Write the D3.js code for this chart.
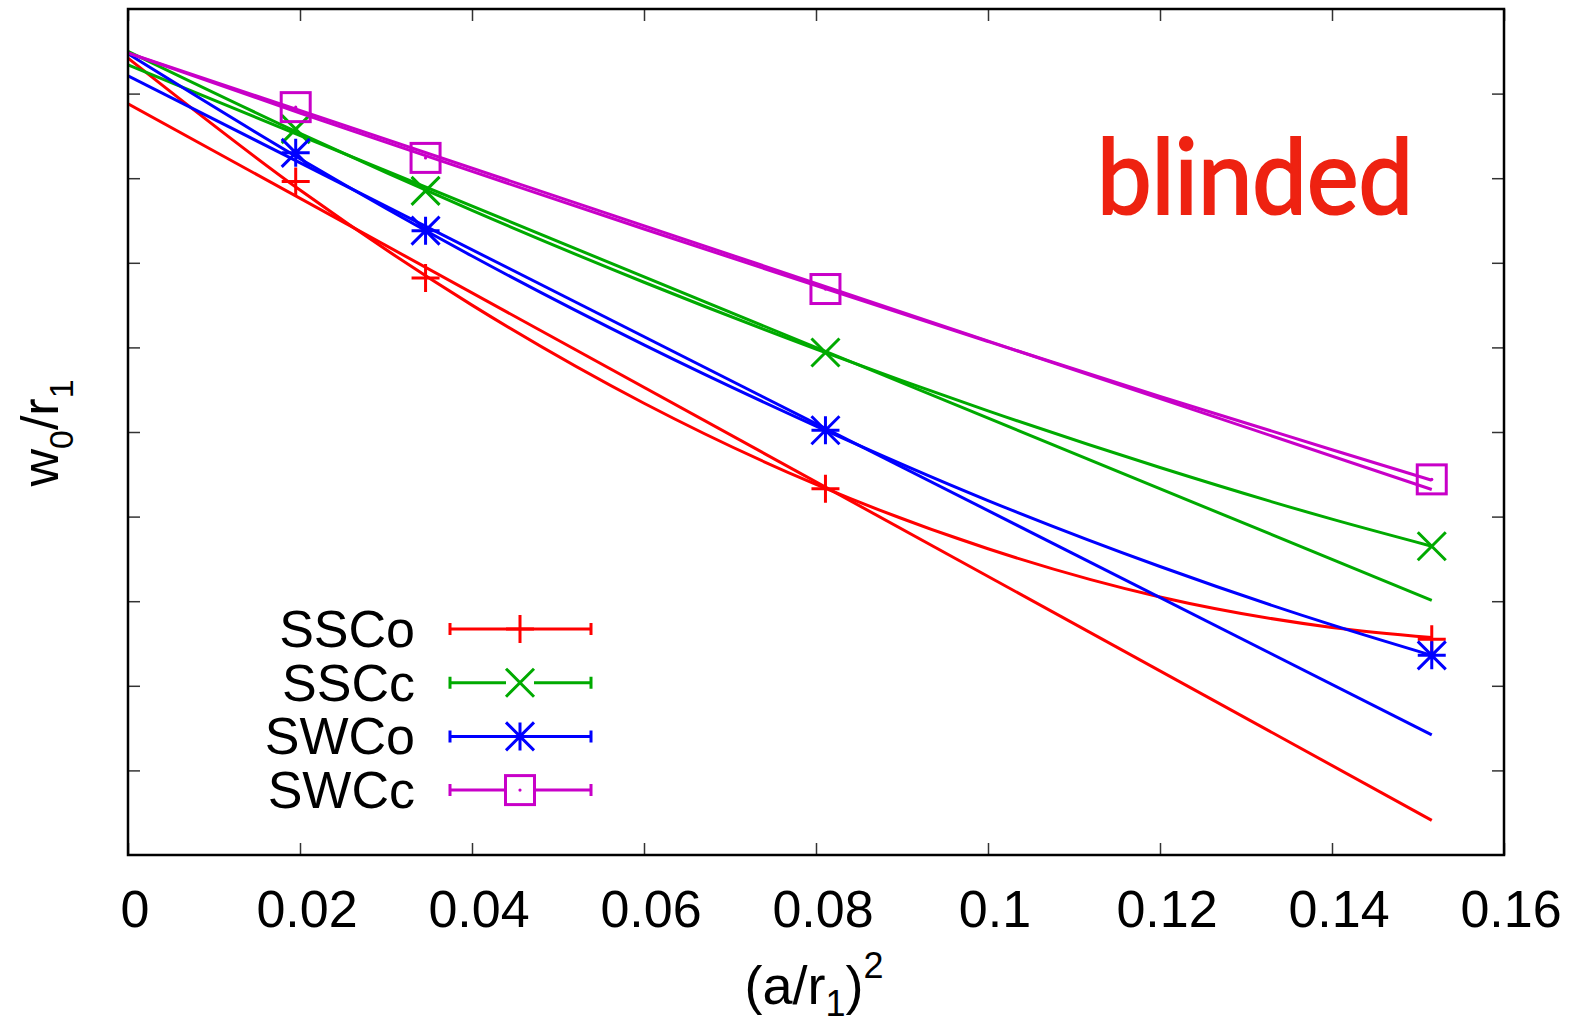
<!DOCTYPE html>
<html>
<head>
<meta charset="utf-8">
<script src="https://cdn.jsdelivr.net/npm/d3@7"></script>
<style>
html,body{margin:0;padding:0;background:#fff;}
svg{display:block;}
</style>
</head>
<body>
<svg id="chart" width="1571" height="1025"></svg>
<script>
// ---------------- data ----------------
const xTicks = [0, 0.02, 0.04, 0.06, 0.08, 0.1, 0.12, 0.14, 0.16];
const xTickLabels = ["0", "0.02", "0.04", "0.06", "0.08", "0.1", "0.12", "0.14", "0.16"];
const yTicks = [1, 2, 3, 4, 5, 6, 7, 8, 9];   // blinded: no labels

const seriesNames = ["SSCo", "SSCc", "SWCo", "SWCc"];
const seriesColors = ["#ff0000", "#00aa00", "#0000ff", "#c800c8"];
const seriesMarkers = ["plus", "cross", "star", "square"];

// (a/r1)^2 of the ensembles
const pointX = [0.0195, 0.0346, 0.0811, 0.1516];
// w0/r1 (blinded units)
const ssco = [7.96, 6.82, 4.33, 2.55];
const sscc = [8.58, 7.85, 5.94, 3.65];
const swco = [8.30, 7.38, 5.02, 2.36];
const swcc = [8.84, 8.24, 6.69, 4.44];

// fit curves
const fitX = [0, 0.02, 0.04, 0.06, 0.08, 0.10, 0.12, 0.14, 0.1516];
const fitSSCoCurve = [9.42, 7.86, 6.50, 5.34, 4.38, 3.62, 3.05, 2.69, 2.57];
const fitSSCcCurve = [9.50, 8.53, 7.62, 6.77, 5.98, 5.25, 4.58, 3.97, 3.65];
const fitSWCoCurve = [9.47, 8.23, 7.08, 6.03, 5.07, 4.19, 3.41, 2.72, 2.36];
const fitSWCcCurve = [9.48, 8.77, 8.08, 7.40, 6.73, 6.07, 5.42, 4.79, 4.43];
const fitLineX = [0, 0.1516];
const fitSSCoLine = [8.88, 0.41];
const fitSSCcLine = [9.34, 3.01];
const fitSWCoLine = [9.21, 1.42];
const fitSWCcLine = [9.48, 4.32];

// ---------------- layout ----------------
const L = 128, R = 1504, T = 9, B = 855;
const svg = d3.select("#chart");
const x = d3.scaleLinear().domain([0, 0.16]).range([L, R]);
const y = d3.scaleLinear().domain([0, 10]).range([B, T]);
const FONT = "'Liberation Sans', Arial, Helvetica, sans-serif";

svg.append("defs").append("clipPath").attr("id", "clip")
  .append("rect").attr("x", L).attr("y", T).attr("width", R - L).attr("height", B - T);

// ticks (inward, mirrored)
const tl = 12;
const axB = d3.axisBottom(x).tickValues(xTicks).tickSize(tl).tickFormat("");
const gTicks = svg.append("g");
gTicks.append("g").attr("transform", `translate(0,${B - tl})`).call(axB);
gTicks.append("g").attr("transform", `translate(0,${T})`).call(axB);
const axL = d3.axisLeft(y).tickValues(yTicks).tickSize(tl).tickFormat("");
gTicks.append("g").attr("transform", `translate(${L + tl},0)`).call(axL);
gTicks.append("g").attr("transform", `translate(${R},0)`).call(axL);
gTicks.selectAll(".domain").remove();
gTicks.selectAll(".tick line").attr("stroke", "#333").attr("stroke-width", 1.5);

// tick labels
svg.append("g").selectAll("text").data(xTicks).join("text")
  .attr("x", d => x(d) + 7).attr("y", 927)
  .attr("text-anchor", "middle")
  .attr("font-family", FONT).attr("font-size", 52)
  .text((d, i) => xTickLabels[i]);

// ---------------- marks ----------------
function markerPath(type, s) {
  const p = d3.path();
  if (type === "plus" || type === "star") {
    p.moveTo(-s, 0); p.lineTo(s, 0); p.moveTo(0, -s); p.lineTo(0, s);
  }
  if (type === "cross" || type === "star") {
    p.moveTo(-s, -s); p.lineTo(s, s); p.moveTo(-s, s); p.lineTo(s, -s);
  }
  return p.toString();
}
function drawMarker(g, type, cx, cy, color) {
  const m = g.append("g").attr("transform", `translate(${cx},${cy})`);
  if (type === "square") {
    m.append("rect").attr("x", -14.5).attr("y", -14.5).attr("width", 29).attr("height", 29)
      .attr("fill", "none").attr("stroke", color).attr("stroke-width", 3);
    m.append("circle").attr("r", 1.6).attr("fill", color);
  } else {
    m.append("path").attr("d", markerPath(type, 14))
      .attr("stroke", color).attr("stroke-width", 3).attr("fill", "none");
  }
}

const pointSets = [ssco, sscc, swco, swcc];
const curveSets = [fitSSCoCurve, fitSSCcCurve, fitSWCoCurve, fitSWCcCurve];
const lineSets = [fitSSCoLine, fitSSCcLine, fitSWCoLine, fitSWCcLine];

const curveGen = d3.line().x(d => x(d[0])).y(d => y(d[1])).curve(d3.curveMonotoneX);
const lineGen = d3.line().x(d => x(d[0])).y(d => y(d[1]));

const plot = svg.append("g").attr("clip-path", "url(#clip)");
seriesNames.forEach((name, i) => {
  const col = seriesColors[i];
  const g = plot.append("g");
  g.append("path").datum(fitX.map((v, k) => [v, curveSets[i][k]]))
    .attr("d", curveGen).attr("fill", "none").attr("stroke", col).attr("stroke-width", 3);
  g.append("path").datum(fitLineX.map((v, k) => [v, lineSets[i][k]]))
    .attr("d", lineGen).attr("fill", "none").attr("stroke", col).attr("stroke-width", 3);
  pointX.forEach((px, k) => drawMarker(g, seriesMarkers[i], x(px), y(pointSets[i][k]), col));
});

// frame
svg.append("rect").attr("x", L).attr("y", T).attr("width", R - L).attr("height", B - T)
  .attr("fill", "none").attr("stroke", "#000").attr("stroke-width", 2.5);

// ---------------- legend ----------------
const legY0 = 629, legDy = 53.7;
const lg = svg.append("g");
seriesNames.forEach((name, i) => {
  const yy = legY0 + i * legDy, col = seriesColors[i];
  lg.append("text").attr("x", 415).attr("y", yy + 18).attr("text-anchor", "end")
    .attr("font-family", FONT).attr("font-size", 52).text(name);
  const x1 = 450, x2 = 591, xm = 520, gap = seriesMarkers[i] === "plus" ? 0 : 14;
  lg.append("path").attr("d", `M${x1},${yy}H${xm - gap}M${xm + gap},${yy}H${x2}M${x1},${yy - 6}V${yy + 6}M${x2},${yy - 6}V${yy + 6}`)
    .attr("stroke", col).attr("stroke-width", 3).attr("fill", "none");
  drawMarker(lg, seriesMarkers[i], xm, yy, col);
});

// ---------------- titles ----------------
const xt = svg.append("text").attr("x", 814).attr("y", 1004).attr("text-anchor", "middle")
  .attr("font-family", FONT).attr("font-size", 54);
xt.append("tspan").text("(a/r");
xt.append("tspan").attr("font-size", 36).attr("dy", 12).text("1");
xt.append("tspan").attr("dy", -12).text(")");
xt.append("tspan").attr("font-size", 36).attr("dy", -26).text("2");

const yt = svg.append("text").attr("transform", "translate(58,433) rotate(-90)")
  .attr("text-anchor", "middle").attr("font-family", FONT).attr("font-size", 52);
yt.append("tspan").text("w");
yt.append("tspan").attr("font-size", 34).attr("dy", 15).text("0");
yt.append("tspan").attr("dy", -15).text("/r");
yt.append("tspan").attr("font-size", 34).attr("dy", 15).text("1");

// blinded label
svg.append("text").attr("x", 1097).attr("y", 214)
  .attr("font-family", "Lato, 'Open Sans', sans-serif").attr("font-size", 104)
  .attr("fill", "#ee2211").attr("stroke", "#ee2211").attr("stroke-width", 2.2)
  .attr("textLength", 316).attr("lengthAdjust", "spacingAndGlyphs")
  .text("blinded");
</script>
</body>
</html>
